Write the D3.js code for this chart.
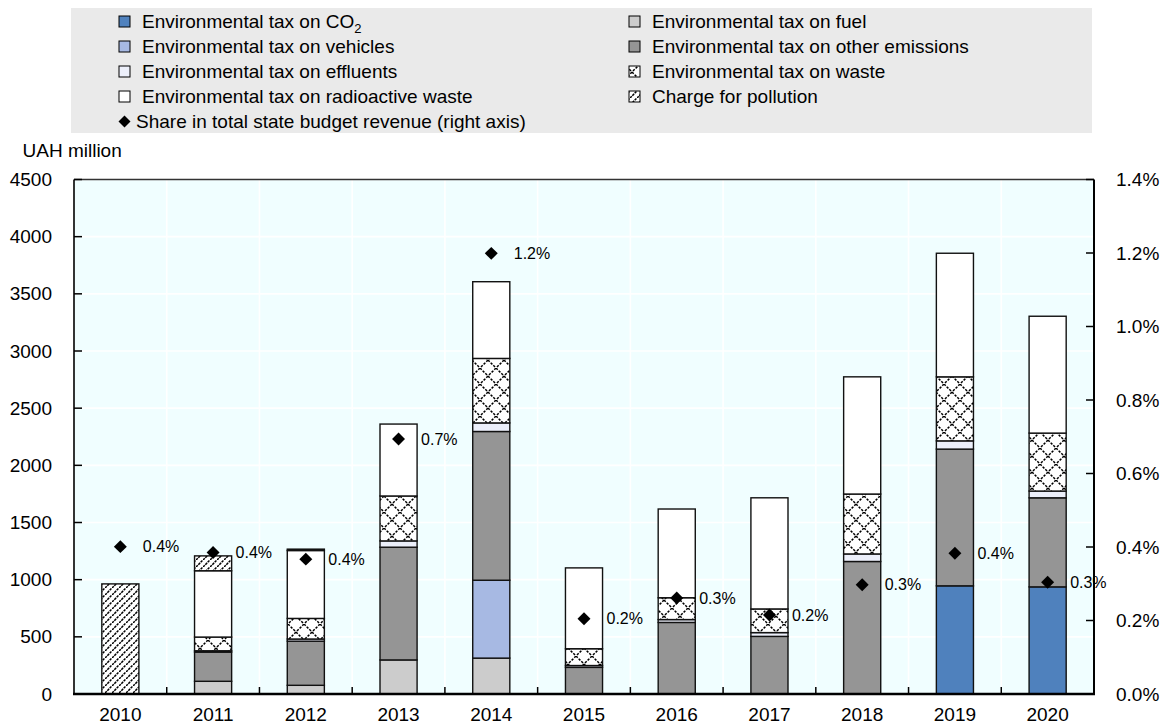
<!DOCTYPE html>
<html>
<head>
<meta charset="utf-8">
<script src="https://cdn.jsdelivr.net/npm/d3@7"></script>
<style>
  html, body { margin: 0; padding: 0; background: #ffffff; }
  svg { display: block; }
  text { font-family: Arial, "Liberation Sans", sans-serif; fill: #000; }
</style>
</head>
<body>
<svg id="chart" width="1168" height="728"></svg>
<script>
// ---------------- data ----------------
const years = ["2010","2011","2012","2013","2014","2015","2016","2017","2018","2019","2020"];
const co2            = [0, 0, 0, 0, 0, 0, 0, 0, 0, 946, 937];
const fuel           = [0, 111, 76, 298, 314, 0, 0, 0, 0, 0, 0];
const vehicles       = [0, 0, 0, 0, 681, 0, 0, 0, 0, 0, 0];
const otherEmissions = [0, 255, 386, 986, 1301, 233, 626, 504, 1159, 1196, 779];
const effluents      = [0, 12, 19, 55, 75, 16, 25, 33, 66, 72, 59];
const waste          = [0, 120, 180, 393, 564, 147, 191, 207, 524, 560, 507];
const radioactive    = [0, 580, 594, 629, 671, 707, 776, 972, 1025, 1081, 1022];
const charge         = [963, 130, 12, 0, 0, 0, 0, 0, 0, 0, 0];
const share          = [0.401, 0.385, 0.367, 0.694, 1.199, 0.205, 0.261, 0.215, 0.297, 0.383, 0.304];

const leftTicks  = [0, 500, 1000, 1500, 2000, 2500, 3000, 3500, 4000, 4500];
const rightTicks = [0, 0.2, 0.4, 0.6, 0.8, 1.0, 1.2, 1.4];

const seriesDefs = [
  { key: "co2",   label: "Environmental tax on CO", sub: "2", values: co2,            fill: "#4F81BD" },
  { key: "fuel",  label: "Environmental tax on fuel",           values: fuel,           fill: "#CCCCCC" },
  { key: "veh",   label: "Environmental tax on vehicles",       values: vehicles,       fill: "#A7B9E3" },
  { key: "oth",   label: "Environmental tax on other emissions",values: otherEmissions, fill: "#959595" },
  { key: "eff",   label: "Environmental tax on effluents",      values: effluents,      fill: "#ECEFFA" },
  { key: "wst",   label: "Environmental tax on waste",          values: waste,          fill: "url(#xhatch)" },
  { key: "rad",   label: "Environmental tax on radioactive waste", values: radioactive, fill: "#FFFFFF" },
  { key: "chg",   label: "Charge for pollution",                values: charge,         fill: "url(#dhatch)" }
];
const shareLabel = "Share in total state budget revenue (right axis)";

// ---------------- layout ----------------
const svg = d3.select("#chart");
const L = 74, R = 1094, T = 179.5, B = 694;

const x = d3.scaleBand().domain(years).range([L, R]).paddingInner(0.6).paddingOuter(0.3);
const y = d3.scaleLinear().domain([0, 4500]).range([B, T]);
const y2 = d3.scaleLinear().domain([0, 1.4]).range([B, T]);
const step = x.step();

// patterns
const defs = svg.append("defs");
const px = defs.append("pattern").attr("id", "xhatch").attr("patternUnits", "userSpaceOnUse")
  .attr("width", 16).attr("height", 16);
px.append("rect").attr("width", 16).attr("height", 16).attr("fill", "#fff");
px.append("path").attr("d", "M0,0L16,16M16,0L0,16").attr("stroke", "#000")
  .attr("stroke-width", 1.5).attr("stroke-dasharray", "2.4,1.37");

const pd = defs.append("pattern").attr("id", "dhatch").attr("patternUnits", "userSpaceOnUse")
  .attr("width", 7).attr("height", 7);
pd.append("rect").attr("width", 7).attr("height", 7).attr("fill", "#fff");
pd.append("path").attr("d", "M0,7L7,0").attr("stroke", "#000")
  .attr("stroke-width", 1.5).attr("stroke-dasharray", "2.5,0.8");

// ---------------- legend ----------------
svg.append("rect").attr("x", 71).attr("y", 8).attr("width", 1021).attr("height", 125).attr("fill", "#EAEAEA");
const legRowY = i => 21.5 + i * 25;
seriesDefs.forEach((s, i) => {
  const col = i % 2, row = Math.floor(i / 2);
  const sx = col === 0 ? 119 : 629;
  const cy = legRowY(row);
  svg.append("rect").attr("x", sx).attr("y", cy - 5.5).attr("width", 11).attr("height", 11)
    .attr("fill", s.fill).attr("stroke", "#000").attr("stroke-width", 1);
  const t = svg.append("text").attr("x", sx + 23).attr("y", cy).attr("dy", "0.35em")
    .attr("font-size", 19).text(s.label);
  if (s.sub) t.append("tspan").attr("font-size", 13).attr("dy", "0.35em").text(s.sub);
});
{
  const cy = legRowY(4);
  svg.append("path").attr("d", d3.symbol().type(d3.symbolSquare).size(72)())
    .attr("transform", `translate(124.5,${cy}) rotate(45)`).attr("fill", "#000");
  svg.append("text").attr("x", 136).attr("y", cy).attr("dy", "0.35em").attr("font-size", 19).text(shareLabel);
}

// ---------------- plot area ----------------
svg.append("rect").attr("x", L).attr("y", T).attr("width", R - L).attr("height", B - T).attr("fill", "#F0FEFF");

// gridlines
svg.append("g").selectAll("line").data(leftTicks.slice(1)).join("line")
  .attr("x1", L).attr("x2", R).attr("y1", d => y(d)).attr("y2", d => y(d))
  .attr("stroke", "#fff").attr("stroke-width", 1.6);
const bounds = years.slice(1).map(d => x(d) - step * 0.3);
svg.append("g").selectAll("line").data(bounds).join("line")
  .attr("x1", d => d).attr("x2", d => d).attr("y1", T).attr("y2", B)
  .attr("stroke", "#fff").attr("stroke-width", 1.6);

// stacked bars
const table = years.map((yr, i) => {
  const o = { year: yr };
  seriesDefs.forEach(s => o[s.key] = s.values[i]);
  return o;
});
const stack = d3.stack().keys(seriesDefs.map(s => s.key));
const stacked = stack(table);
const barG = svg.append("g");
stacked.forEach((layer, li) => {
  const s = seriesDefs[li];
  barG.append("g").selectAll("rect")
    .data(layer.filter(d => d[1] - d[0] > 0))
    .join("rect")
    .attr("x", d => x(d.data.year))
    .attr("width", x.bandwidth())
    .attr("y", d => y(d[1]))
    .attr("height", d => y(d[0]) - y(d[1]))
    .attr("fill", s.fill)
    .attr("stroke", "#111")
    .attr("stroke-width", 1.4);
});

// axes
const axisG = svg.append("g");
axisG.append("line").attr("x1", L).attr("x2", R).attr("y1", T).attr("y2", T).attr("stroke", "#333").attr("stroke-width", 1.5);
axisG.append("line").attr("x1", L).attr("x2", L).attr("y1", T).attr("y2", B).attr("stroke", "#000").attr("stroke-width", 1.6);
axisG.append("line").attr("x1", R).attr("x2", R).attr("y1", T).attr("y2", B).attr("stroke", "#000").attr("stroke-width", 2);

// left ticks & labels
axisG.selectAll(".lt").data(leftTicks).join("line").attr("class", "lt")
  .attr("x1", L).attr("x2", L + 8).attr("y1", d => y(d)).attr("y2", d => y(d))
  .attr("stroke", "#000").attr("stroke-width", 1.5);
axisG.selectAll(".ll").data(leftTicks).join("text").attr("class", "ll")
  .attr("x", 52).attr("y", d => y(d)).attr("dy", "0.35em").attr("text-anchor", "end")
  .attr("font-size", 19).text(d => d);

// right ticks & labels
axisG.selectAll(".rt").data(rightTicks).join("line").attr("class", "rt")
  .attr("x1", R - 8).attr("x2", R).attr("y1", d => y2(d)).attr("y2", d => y2(d))
  .attr("stroke", "#000").attr("stroke-width", 1.5);
axisG.selectAll(".rl").data(rightTicks).join("text").attr("class", "rl")
  .attr("x", 1116).attr("y", d => y2(d)).attr("dy", "0.35em").attr("text-anchor", "start")
  .attr("font-size", 19).text(d => d3.format(".1f")(d) + "%");

// bottom axis
axisG.append("line").attr("x1", L - 1).attr("x2", R + 1).attr("y1", B).attr("y2", B).attr("stroke", "#000").attr("stroke-width", 2.5);
axisG.selectAll(".bt").data(bounds).join("line").attr("class", "bt")
  .attr("x1", d => d).attr("x2", d => d).attr("y1", B).attr("y2", B - 7)
  .attr("stroke", "#000").attr("stroke-width", 1.5);
axisG.selectAll(".bl").data(years).join("text").attr("class", "bl")
  .attr("x", d => x(d) + x.bandwidth() / 2).attr("y", 714).attr("dy", "0.35em")
  .attr("text-anchor", "middle").attr("font-size", 19).text(d => d);

// axis title
svg.append("text").attr("x", 22.5).attr("y", 150).attr("dy", "0.35em").attr("font-size", 19).text("UAH million");

// share markers and labels
const mG = svg.append("g");
mG.selectAll("path").data(share).join("path")
  .attr("d", d3.symbol().type(d3.symbolSquare).size(84)())
  .attr("transform", (d, i) => `translate(${x(years[i]) + x.bandwidth() / 2},${y2(d)}) rotate(45)`)
  .attr("fill", "#000");
mG.selectAll("text").data(share).join("text")
  .attr("x", (d, i) => x(years[i]) + x.bandwidth() / 2 + 22.5)
  .attr("y", d => y2(d)).attr("dy", "0.35em")
  .attr("font-size", 16).text(d => d3.format(".1f")(d) + "%");
</script>
</body>
</html>
